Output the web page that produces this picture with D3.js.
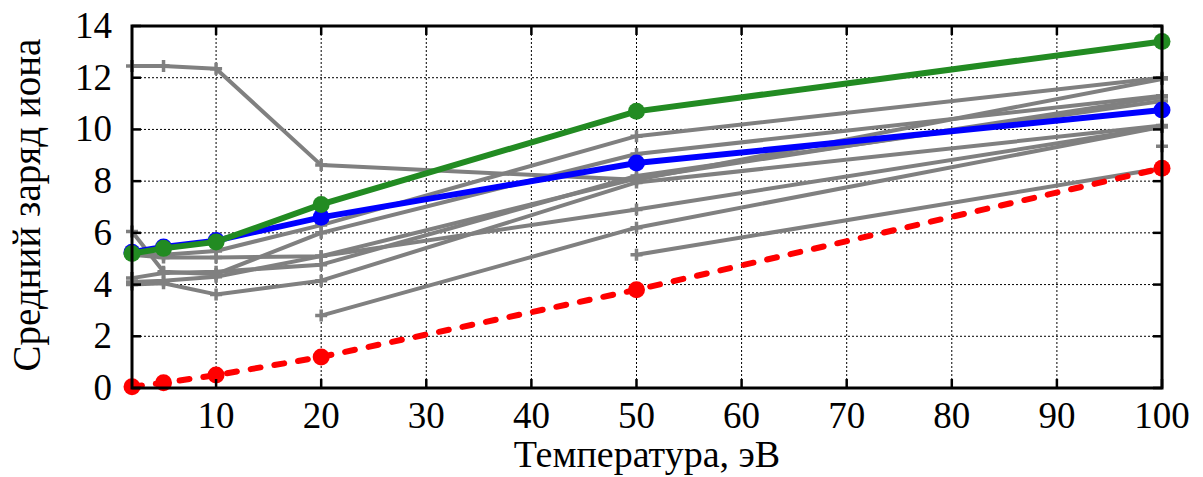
<!DOCTYPE html>
<html><head><meta charset="utf-8">
<script src="https://cdn.jsdelivr.net/npm/d3@7"></script>
<style>html,body{margin:0;padding:0;background:#fff;}svg{display:block;}</style>
</head><body>
<svg id="chart" width="1203" height="477"></svg>
<script>
// ---- data ----
const temperatures = [2, 5, 10, 20, 50, 100];
const xTicks = [10, 20, 30, 40, 50, 60, 70, 80, 90, 100];
const yTicks = [0, 2, 4, 6, 8, 10, 12, 14];
const xLabel = "Температура, эВ";
const yLabel = "Средний заряд иона";

const graySeries = [
  [12.45, 12.45, 12.35, 8.62, 8.05, 11.95],
  [5.2, 5.15, 5.3, 6.3, 9.74, 12.0],
  [6.05, 4.5, 4.4, 6.0, 9.05, 11.3],
  [5.15, 5.05, 5.05, 5.1, 6.9, 10.1],
  [4.25, 4.45, 4.5, 4.77, 8.2, 11.1],
  [4.1, 4.15, 4.3, 5.1, 8.1, 11.25],
  [4.0, 4.05, 3.62, 4.15, 7.95, 10.15],
  [null, null, null, 2.8, 6.2, 10.1],
  [null, null, null, null, 5.15, 8.5],
  [null, null, null, null, null, 9.35]
];
const blueSeries = [5.25, 5.45, 5.7, 6.6, 8.7, 10.75];
const greenSeries = [5.2, 5.4, 5.65, 7.1, 10.7, 13.4];
const redSeries = [0.05, 0.2, 0.5, 1.2, 3.8, 8.5];

// ---- layout ----
const L = 132, R = 1162, T = 26, B = 388;
const svg = d3.select("#chart");
const x = d3.scaleLinear().domain([2, 100]).range([L, R]);
const y = d3.scaleLinear().domain([0, 14]).range([B, T]);
const font = "'Liberation Serif', 'DejaVu Serif', serif";

// grid
const grid = svg.append("g");
grid.selectAll("line.gx").data(xTicks.filter(d => d < 100)).enter().append("line")
  .attr("x1", d => x(d)).attr("x2", d => x(d)).attr("y1", T).attr("y2", B)
  .attr("stroke", "#000").attr("stroke-width", 1).attr("stroke-dasharray", "2,2");
grid.selectAll("line.gy").data(yTicks.filter(d => d > 0 && d < 14)).enter().append("line")
  .attr("y1", d => y(d)).attr("y2", d => y(d)).attr("x1", L).attr("x2", R)
  .attr("stroke", "#000").attr("stroke-width", 1).attr("stroke-dasharray", "2,2");

const pts = arr => arr.map((v, i) => ({t: temperatures[i], v}));
const line = d3.line().defined(d => d.v !== null).x(d => x(d.t)).y(d => y(d.v));

// gray series
const gg = svg.append("g");
graySeries.forEach(s => {
  const p = pts(s);
  gg.append("path").attr("d", line(p)).attr("fill", "none")
    .attr("stroke", "#808080").attr("stroke-width", 4).attr("stroke-linejoin", "round");
  p.filter(d => d.v !== null).forEach(d => {
    gg.append("path")
      .attr("d", `M${x(d.t) - 6},${y(d.v)}H${x(d.t) + 6}M${x(d.t)},${y(d.v) - 6}V${y(d.v) + 6}`)
      .attr("stroke", "#808080").attr("stroke-width", 3.5);
  });
});

function colored(data, color, dash) {
  const p = pts(data);
  const g = svg.append("g");
  g.append("path").attr("d", line(p)).attr("fill", "none")
    .attr("stroke", color).attr("stroke-width", 6)
    .attr("stroke-dasharray", dash || null).attr("stroke-linecap", dash ? "round" : "butt");
  g.selectAll("circle").data(p).enter().append("circle")
    .attr("cx", d => x(d.t)).attr("cy", d => y(d.v)).attr("r", 8.5).attr("fill", color);
}
colored(redSeries, "#ff0000", "10,14");
colored(blueSeries, "#0000ff");
colored(greenSeries, "#228b22");

// frame
svg.append("rect").attr("x", L).attr("y", T).attr("width", R - L).attr("height", B - T)
  .attr("fill", "none").attr("stroke", "#000").attr("stroke-width", 3);

// ticks (inward, all sides)
const tk = svg.append("g").attr("stroke", "#000").attr("stroke-width", 2.5);
xTicks.forEach(d => {
  tk.append("line").attr("x1", x(d)).attr("x2", x(d)).attr("y1", B).attr("y2", B - 9);
  tk.append("line").attr("x1", x(d)).attr("x2", x(d)).attr("y1", T).attr("y2", T + 9);
});
yTicks.forEach(d => {
  tk.append("line").attr("y1", y(d)).attr("y2", y(d)).attr("x1", L).attr("x2", L + 9);
  tk.append("line").attr("y1", y(d)).attr("y2", y(d)).attr("x1", R).attr("x2", R - 9);
});

// tick labels
svg.append("g").selectAll("text").data(xTicks).enter().append("text")
  .attr("x", d => x(d)).attr("y", 428).attr("text-anchor", "middle")
  .attr("font-family", font).attr("font-size", 37).attr("fill", "#000").text(d => d);
svg.append("g").selectAll("text").data(yTicks).enter().append("text")
  .attr("x", 112).attr("y", d => y(d) + 12).attr("text-anchor", "end")
  .attr("font-family", font).attr("font-size", 37).attr("fill", "#000").text(d => d);

// axis labels
svg.append("text").attr("x", 647).attr("y", 467).attr("text-anchor", "middle")
  .attr("font-family", font).attr("font-size", 38).attr("fill", "#000").text(xLabel);
svg.append("text").attr("transform", "translate(40,205) rotate(-90)").attr("text-anchor", "middle")
  .attr("font-family", font).attr("font-size", 39).attr("fill", "#000").text(yLabel);
</script>
</body></html>
